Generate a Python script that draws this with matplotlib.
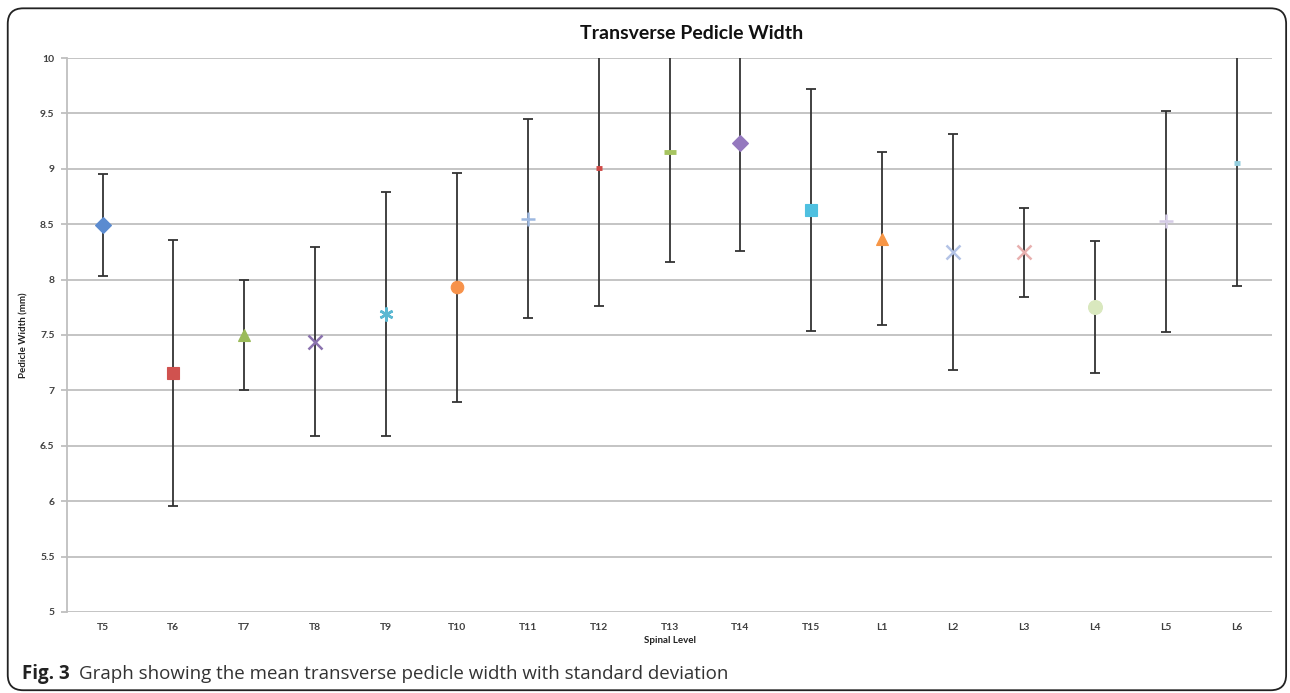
""" Transverse pedicle width: mean +/- SD per spinal level
"""
import matplotlib.pyplot as plt
from matplotlib.patches import FancyBboxPatch
import numpy as np

# data
levels = ['T5', 'T6', 'T7', 'T8', 'T9', 'T10', 'T11', 'T12', 'T13', 'T14',
          'T15', 'L1', 'L2', 'L3', 'L4', 'L5', 'L6']
mean_width = [8.49, 7.16, 7.50, 7.44, 7.69, 7.93, 8.55, 9.01, 9.15, 9.23,
              8.63, 8.37, 8.25, 8.245, 7.755, 8.525, 9.05]
sd_width = [0.46, 1.20, 0.50, 0.855, 1.10, 1.035, 0.895, 1.25, 0.99, 0.97,
            1.09, 0.78, 1.065, 0.40, 0.595, 0.995, 1.11]

# excel-like marker cycle
markers = ['D', 's', '^', 'x', (6, 2, 0), 'o', '+', '_', '_', 'D',
           's', '^', 'x', 'x', 'o', '+', '_']
colors = ['#5B8BD0', '#D0524F', '#9BBB59', '#8A72AE', '#5BB8D2', '#F7924A',
          '#9DB8E0', '#D04A47', '#A6C460', '#9478BE', '#4FC0E0', '#F79646',
          '#B3C3E6', '#E8B0AF', '#D9E8BE', '#D5CCE6', '#93CDDD']
sizes = [8, 9, 9, 10, 10, 9, 10, 5, 9, 8, 9, 9, 10, 10, 10, 10, 5]

fsize_tick = 7.5
fsize_label = 7
fsize_title = 14
grid_col = '#BFBFBF'
text_col = '#404040'

fig = plt.figure(figsize=(12.9, 6.93), dpi=100)
ax = fig.add_axes([0.052, 0.1169, 0.934, 0.7994])

x = np.arange(len(levels))
ax.errorbar(x, mean_width, yerr=sd_width, fmt='none', ecolor='#333333',
            elinewidth=1.3, capsize=3.5, capthick=1.3, zorder=3)
for xi, yi, m, c, s in zip(x, mean_width, markers, colors, sizes):
    if m == '_':
        mew = 3.5
    elif m in ('x', '+') or isinstance(m, tuple):
        mew = 1.8
    else:
        mew = 0.8
    ax.plot(xi, yi, marker=m, color=c, markersize=s, markeredgewidth=mew,
            linestyle='none', zorder=4)

ax.set_xlim(-0.5, len(levels) - 0.5)
ax.set_ylim(5, 10)
ax.set_yticks(np.arange(5, 10.01, 0.5))
ax.set_yticklabels(['5', '5.5', '6', '6.5', '7', '7.5', '8', '8.5', '9', '9.5', '10'])
ax.set_xticks(x)
ax.set_xticklabels(levels)
ax.yaxis.grid(True, color=grid_col, linewidth=1.3)
ax.set_axisbelow(True)
for side in ['top', 'right', 'bottom']:
    ax.spines[side].set_visible(False)
ax.spines['left'].set_color(grid_col)
ax.spines['left'].set_linewidth(1.3)
ax.tick_params(axis='y', length=4, color=grid_col, width=1.3, pad=5,
               labelsize=fsize_tick, labelcolor=text_col)
ax.tick_params(axis='x', length=0, pad=8, labelsize=fsize_tick, labelcolor=text_col)
for lab in ax.get_xticklabels() + ax.get_yticklabels():
    lab.set_fontweight('bold')
    lab.set_family('Lato')

ax.set_xlabel('Spinal Level', fontsize=fsize_label, fontweight='bold',
              family='Lato', labelpad=3, color='#222222')
ax.set_ylabel('Pedicle Width (mm)', fontsize=fsize_label, fontweight='bold',
              family='Lato', labelpad=8, color='#222222')
fig.text(0.536, 0.952, 'Transverse Pedicle Width', fontsize=fsize_title,
         fontweight='bold', family='Lato', ha='center', va='center', color='#111111')

# caption
fig.text(0.017, 0.028, 'Fig. 3', fontsize=13.5, fontweight='bold',
         family='Open Sans', ha='left', va='center', color='#222222')
fig.text(0.061, 0.028, 'Graph showing the mean transverse pedicle width with standard deviation',
         fontsize=13.5, family='Open Sans', ha='left', va='center', color='#333333')

# rounded frame round the panel
frame = FancyBboxPatch((0.006, 0.004), 0.991, 0.984, boxstyle='round,pad=0,rounding_size=0.012',
                       transform=fig.transFigure, fill=False, edgecolor='#222222',
                       linewidth=1.3, mutation_aspect=1290 / 693)
fig.patches.append(frame)

plt.savefig('out.png', dpi=100)
